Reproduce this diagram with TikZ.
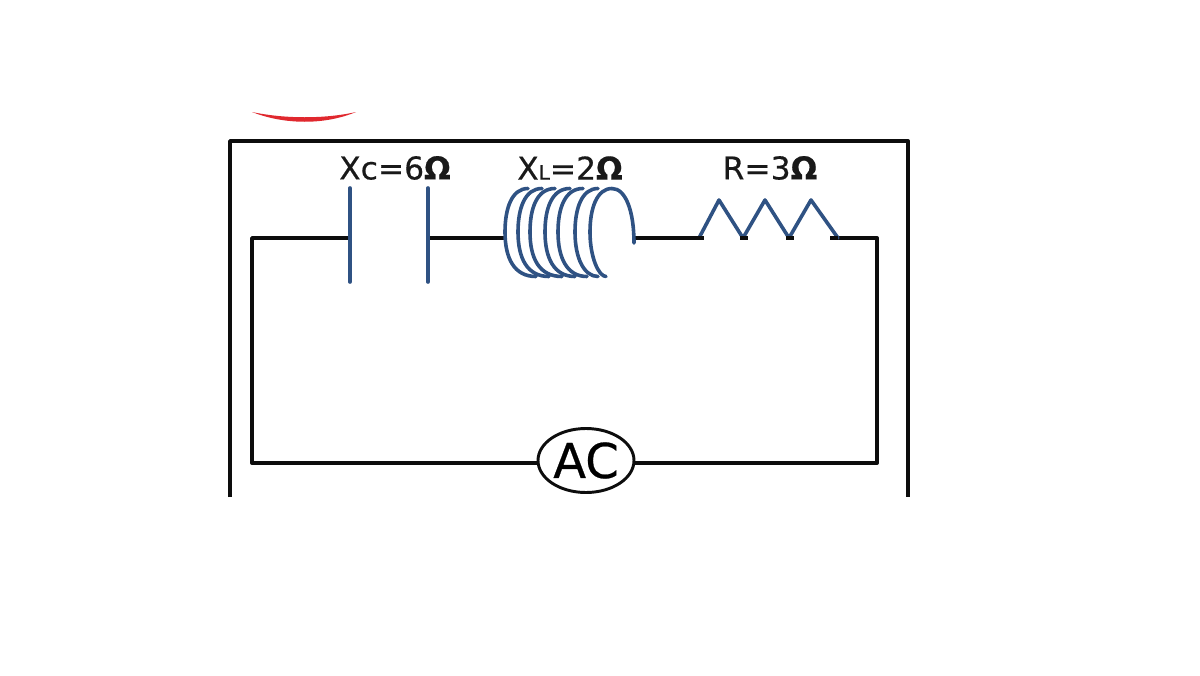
\documentclass[tikz,border=0pt]{standalone}
\usepackage{fontspec}
\setmainfont{DejaVu Sans}
\newfontfamily\labelfont[FakeBold=0.5]{DejaVu Sans}
\usepackage{xcolor}
\usetikzlibrary{shapes.geometric}
\definecolor{compblue}{HTML}{2F5283}
\definecolor{arcred}{HTML}{E0282E}
\tikzset{
	wire/.style={draw=black!95, line width=2.9pt, line join=round},
	frameline/.style={draw=black!95, line width=2.9pt, line join=round},
	part/.style={draw=compblue, line width=2.7pt, line join=round, line cap=round},
	valuelabel/.style={inner sep=0pt, font=\labelfont\fontsize{23.5}{26}\selectfont, text=black!90},
	sourcenode/.style={ellipse, draw=black!95, line width=2.2pt, fill=white, minimum width=72pt, minimum height=48pt, inner sep=0pt, font=\labelfont\fontsize{36}{40}\selectfont}
}
\begin{document}
\begin{tikzpicture}[x=0.75pt, y=-0.75pt]
			\useasboundingbox (0,0) rectangle (1200,675);
			\fill[arcred] (252,112) .. controls (285,125) and (325,125) .. (356,112) .. controls (325,119) and (285,119) .. (252,112) -- cycle;
			\draw[frameline] (230,497) -- (230,141) -- (908,141) -- (908,497);
			\node[valuelabel] (labelC) at (395,168) {Xc=6\textbf{Ω}};
			\node[valuelabel] (labelL) at (570,168) {X{\fontsize{15}{16}\selectfont L}=2\textbf{Ω}};
			\node[valuelabel] (labelR) at (770,168) {R=3\textbf{Ω}};
			\foreach \name/\x/\y in {cornerTL/252/238, cornerBL/252/463, cornerBR/877/463, cornerTR/877/238, plateA/350/238, plateB/428/238, coilIn/505/238, coilOut/635/238, zigIn/699/238, zigOut/838/238}
			{
				\coordinate (\name) at (\x,\y);
			}
			\node[sourcenode] (source) at (586,460.5) {AC};
			\draw[wire] (source.west |- cornerBL) -- (cornerBL) -- (cornerTL) -- (plateA);
			\draw[wire] (source.east |- cornerBR) -- (cornerBR) -- (cornerTR) -- (zigOut);
			\draw[wire] (plateB) -- (coilIn);
			\draw[wire] (coilOut) -- (zigIn);
			\foreach \x in {350, 428}
			{
				\draw[part] (\x,188) -- (\x,282);
			}
			\foreach \x/\topx/\botx in {505/528/536, 518/542/549, 530/555/562, 545/570/575, 558/583/587, 575/598/598, 590/612/606}
			{
				\draw[part] (\topx,188.5) .. controls (\x+7,188.5) and (\x,208) .. (\x,232) .. controls (\x,258) and (\x+9,276.5) .. (\botx,276.5);
			}
			\draw[part] (612,188.5) .. controls (626,188.5) and (634,212) .. (634,243);
			\draw[part] (zigIn) -- (719,200) -- (743,238) -- (765,200) -- (789,238) -- (811,200) -- (zigOut);
			\foreach \x in {699, 743, 789, 833}
			{
				\draw[black!95, line width=2.4pt] (\x-3,238) -- (\x+5,238);
			}
		\end{tikzpicture}
\end{document}
